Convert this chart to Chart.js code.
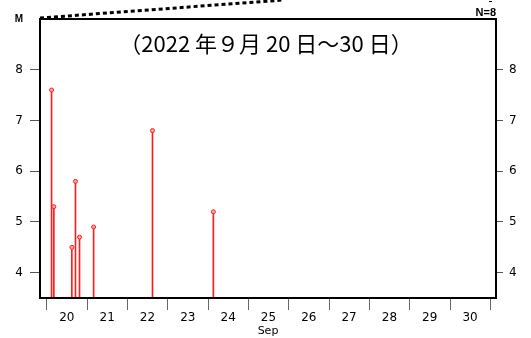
<!DOCTYPE html>
<html lang="ja">
<head>
    <meta charset="UTF-8">
    <title>M-T 図</title>
    <style>
        body { margin: 0; background: #fff; }
        #wrap { width: 531px; height: 338px; }
    </style>
    <script src="https://cdn.jsdelivr.net/npm/chart.js"></script>
</head>
<body>
    <div id="wrap"><canvas id="mt" width="531" height="338"></canvas></div>

    <script>
        // 発生日時 (9月の日、小数は時刻) とマグニチュード
        const dias = [20.117, 20.174, 20.62, 20.71, 20.81, 21.16, 22.62, 24.13];
        const magnitudes = [7.6, 5.3, 4.5, 5.8, 4.7, 4.9, 6.8, 5.2];
        const diasEje = [20, 21, 22, 23, 24, 25, 26, 27, 28, 29, 30, 31];
        const magEje = [4, 5, 6, 7, 8, 9];
        const titulo = '（2022 年９月 20 日～30 日）';
        const mesLabel = 'Sep';
        const nLabel = 'N=' + magnitudes.length;

        const puntos = dias.map((d, i) => ({ x: d, y: magnitudes[i] }));
        const fuente = '"DejaVu Sans", Verdana, sans-serif';

        // marco, título y anotaciones
        const extras = {
            id: 'extras',
            afterDraw(chart) {
                const { ctx, chartArea: a } = chart;
                ctx.save();
                ctx.strokeStyle = '#000';
                ctx.lineWidth = 2;
                ctx.strokeRect(a.left, a.top, a.right - a.left, a.bottom - a.top);

                // línea punteada superior
                ctx.lineWidth = 3;
                ctx.setLineDash([4, 3]);
                ctx.beginPath();
                ctx.moveTo(a.left, a.top - 1);
                ctx.lineTo(283, 0);
                ctx.stroke();
                ctx.setLineDash([]);

                ctx.fillStyle = '#000';
                ctx.font = '22px "Noto Sans CJK JP", sans-serif';
                ctx.textAlign = 'center';
                ctx.textBaseline = 'middle';
                ctx.fillText(titulo, (a.left + a.right) / 2 - 2, a.top + 25);

                ctx.font = 'bold 11px "Liberation Sans", Arial, sans-serif';
                ctx.textAlign = 'right';
                ctx.textBaseline = 'alphabetic';
                ctx.fillText(nLabel, a.right, a.top - 3);
                ctx.fillRect(489, 1, 3, 1);
                ctx.restore();
            }
        };

        new Chart(document.getElementById('mt'), {
            type: 'bar',
            data: {
                datasets: [{
                    type: 'bar',
                    data: puntos,
                    backgroundColor: 'rgb(255,30,30)',
                    barThickness: 1,
                    yAxisID: 'y',
                    order: 2
                }, {
                    type: 'scatter',
                    data: puntos,
                    pointRadius: 2,
                    pointBorderWidth: 1,
                    pointBorderColor: 'rgb(255,30,30)',
                    pointBackgroundColor: 'rgb(255,170,170)',
                    yAxisID: 'y',
                    order: 1
                }]
            },
            options: {
                responsive: false,
                animation: false,
                layout: { padding: { top: 19, left: 0, right: 0, bottom: 0 } },
                plugins: { legend: { display: false }, tooltip: { enabled: false } },
                scales: {
                    x: {
                        type: 'linear',
                        min: 19.83,
                        max: 31.14,
                        offset: false,
                        afterBuildTicks: s => { s.ticks = diasEje.map(v => ({ value: v })); },
                        afterFit: s => { s.height = 40; },
                        grid: { drawOnChartArea: false, offset: false, tickLength: 12, color: '#666' },
                        border: { display: false },
                        ticks: {
                            autoSkip: false,
                            maxRotation: 0,
                            labelOffset: 20,
                            padding: 1,
                            color: '#000',
                            font: { family: fuente, size: 12 },
                            callback: v => v === 31 ? '' : String(v)
                        },
                        title: {
                            display: true,
                            text: mesLabel,
                            color: '#000',
                            padding: { top: 1, bottom: 0 },
                            font: { family: fuente, size: 11 }
                        }
                    },
                    y: {
                        position: 'left',
                        min: 3.5,
                        max: 9,
                        afterBuildTicks: s => { s.ticks = magEje.map(v => ({ value: v })); },
                        afterFit: s => { s.width = 40; },
                        grid: {
                            drawOnChartArea: false,
                            tickLength: 10,
                            color: '#555',
                            tickColor: c => c.tick && c.tick.value === 9 ? 'rgba(0,0,0,0)' : '#555'
                        },
                        border: { display: false },
                        ticks: {
                            padding: 7,
                            color: '#000',
                            font: c => c.tick && c.tick.value === 9
                                ? { family: '"Liberation Sans", Arial, sans-serif', size: 10, weight: 'bold' }
                                : { family: fuente, size: 12 },
                            callback: v => v === 9 ? 'M' : String(v)
                        }
                    },
                    y2: {
                        position: 'right',
                        min: 3.5,
                        max: 9,
                        afterBuildTicks: s => { s.ticks = magEje.filter(v => v < 9).map(v => ({ value: v })); },
                        afterFit: s => { s.width = 35; },
                        grid: { drawOnChartArea: false, tickLength: 7, color: '#555' },
                        border: { display: false },
                        ticks: {
                            padding: 6,
                            color: '#000',
                            font: { family: fuente, size: 12 }
                        }
                    }
                }
            },
            plugins: [extras]
        });
    </script>
</body>
</html>
